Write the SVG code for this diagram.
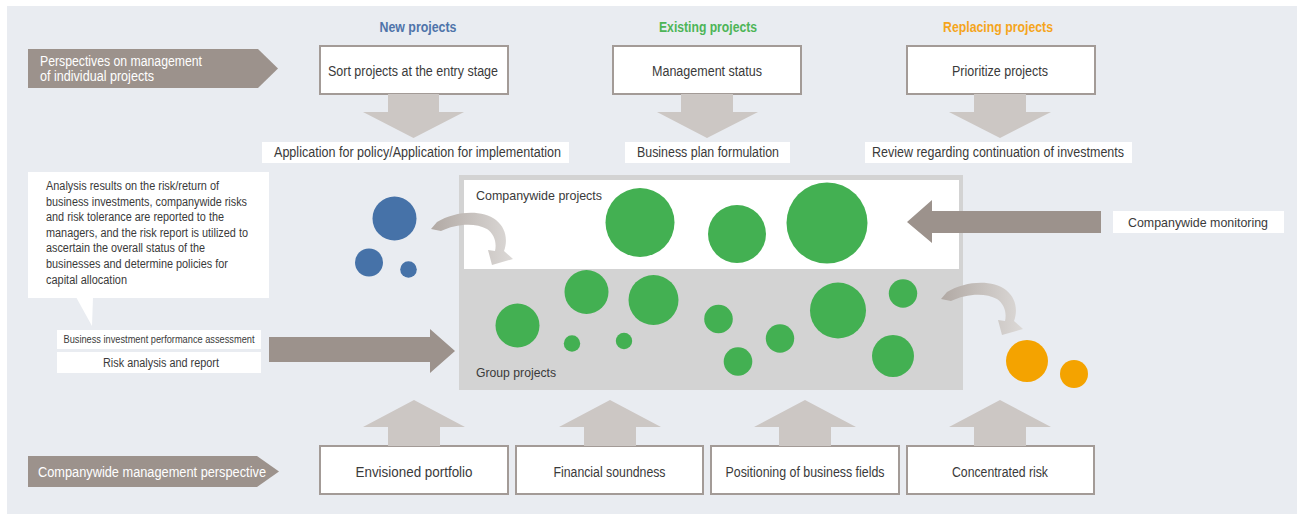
<svg xmlns="http://www.w3.org/2000/svg" width="1299" height="518" viewBox="0 0 1299 518">
<defs>
<style>
text{font-family:"Liberation Sans Narrow","Liberation Sans",Arial,sans-serif;fill:#3a3a3a;}
.t14{font-size:14px;}
.t13{font-size:13px;}
.t12{font-size:12.5px;}
.hd{font-size:14px;font-weight:bold;}
.wt{fill:#ffffff;font-size:14px;}
.box{fill:#ffffff;stroke:#a39b97;stroke-width:2;}
.lbl{fill:#ffffff;}
.pent{fill:#9c928c;}
.varrow{fill:#ccc7c4;}
.harrow{fill:#9c928c;}
.g{fill:#43b052;}
.b{fill:#4672a8;}
.o{fill:#f4a300;}
.curve{fill:url(#cg);}
</style>
<linearGradient id="cg" x1="0" y1="0" x2="1" y2="0">
<stop offset="0" stop-color="#b1a9a4"/>
<stop offset="1" stop-color="#dcd9d7"/>
</linearGradient>
<g id="curveArrow">
<path class="curve" d="M431 229 L437 222 C455 211 482 209 496 220 C506 228 508 240 504 251 L513 259 L492 265 L488 250 L495 251 C497 242 494 234 487 229 C475 222 455 224 441 231 Z"/>
</g>
</defs>

<rect x="7" y="6" width="1290" height="508" fill="#e9ecf1"/>

<g id="perspective-individual">
<polygon class="pent" points="28,49 258,49 278,68.5 258,88 28,88"/>
<text class="wt" x="40" y="66" textLength="162" lengthAdjust="spacingAndGlyphs">Perspectives on management</text>
<text class="wt" x="40" y="81" textLength="114" lengthAdjust="spacingAndGlyphs">of individual projects</text>
</g>

<g id="headers">
<text class="hd" x="418" y="32" text-anchor="middle" style="fill:#4f74aa" textLength="77" lengthAdjust="spacingAndGlyphs">New projects</text>
<text class="hd" x="708" y="32" text-anchor="middle" style="fill:#4db557" textLength="98" lengthAdjust="spacingAndGlyphs">Existing projects</text>
<text class="hd" x="998" y="32" text-anchor="middle" style="fill:#f5a51c" textLength="110" lengthAdjust="spacingAndGlyphs">Replacing projects</text>
</g>

<g id="sort-projects">
<rect class="box" x="320" y="46" width="188" height="48"/>
<text class="t14" x="413" y="75.5" text-anchor="middle" textLength="170" lengthAdjust="spacingAndGlyphs">Sort projects at the entry stage</text>
</g>
<g id="management-status">
<rect class="box" x="613" y="46" width="188" height="48"/>
<text class="t14" x="707" y="75.5" text-anchor="middle" textLength="110" lengthAdjust="spacingAndGlyphs">Management status</text>
</g>
<g id="prioritize-projects">
<rect class="box" x="907" y="46" width="188" height="48"/>
<text class="t14" x="1000" y="75.5" text-anchor="middle" textLength="96" lengthAdjust="spacingAndGlyphs">Prioritize projects</text>
</g>

<g id="application">
<rect class="lbl" x="262" y="142" width="307" height="21"/>
<text class="t14" x="417.5" y="157" text-anchor="middle" textLength="287" lengthAdjust="spacingAndGlyphs">Application for policy/Application for implementation</text>
</g>
<g id="business-plan">
<rect class="lbl" x="625" y="142" width="165" height="21"/>
<text class="t14" x="708" y="157" text-anchor="middle" textLength="142" lengthAdjust="spacingAndGlyphs">Business plan formulation</text>
</g>
<g id="review">
<rect class="lbl" x="865" y="142" width="267" height="21"/>
<text class="t14" x="998" y="157" text-anchor="middle" textLength="252" lengthAdjust="spacingAndGlyphs">Review regarding continuation of investments</text>
</g>

<g id="callout">
<rect class="lbl" x="28" y="172" width="241" height="126"/>
<polygon class="lbl" points="76,297 93,297 92,326"/>
<text class="t12" x="46" y="190" textLength="173" lengthAdjust="spacingAndGlyphs">Analysis results on the risk/return of</text>
<text class="t12" x="46" y="205.6" textLength="201" lengthAdjust="spacingAndGlyphs">business investments, companywide risks</text>
<text class="t12" x="46" y="221.2" textLength="178" lengthAdjust="spacingAndGlyphs">and risk tolerance are reported to the</text>
<text class="t12" x="46" y="236.8" textLength="202" lengthAdjust="spacingAndGlyphs">managers, and the risk report is utilized to</text>
<text class="t12" x="46" y="252.4" textLength="159" lengthAdjust="spacingAndGlyphs">ascertain the overall status of the</text>
<text class="t12" x="46" y="268" textLength="182" lengthAdjust="spacingAndGlyphs">businesses and determine policies for</text>
<text class="t12" x="46" y="283.6" textLength="81" lengthAdjust="spacingAndGlyphs">capital allocation</text>
</g>

<g id="performance-assessment">
<rect class="lbl" x="57" y="330" width="204" height="19"/>
<text x="159" y="343" text-anchor="middle" font-size="11.5" textLength="191" lengthAdjust="spacingAndGlyphs">Business investment performance assessment</text>
</g>
<g id="risk-analysis">
<rect class="lbl" x="57" y="352" width="204" height="21"/>
<text class="t12" x="161" y="367" text-anchor="middle" textLength="116" lengthAdjust="spacingAndGlyphs">Risk analysis and report</text>
</g>

<g id="project-pool">
<rect x="459" y="175" width="504" height="215" fill="#d3d3d3"/>
<rect x="464" y="180" width="495" height="89" fill="#ffffff"/>
<text class="t13" x="476" y="200" textLength="126" lengthAdjust="spacingAndGlyphs">Companywide projects</text>
<text class="t13" x="476" y="377" textLength="80" lengthAdjust="spacingAndGlyphs">Group projects</text>
<circle class="g" cx="640" cy="222.5" r="34.5"/>
<circle class="g" cx="737" cy="234" r="29"/>
<circle class="g" cx="827" cy="223" r="40.5"/>
<circle class="g" cx="517.5" cy="325.5" r="22"/>
<circle class="g" cx="586.5" cy="292" r="22"/>
<circle class="g" cx="653.5" cy="300" r="25"/>
<circle class="g" cx="572" cy="343.5" r="8.2"/>
<circle class="g" cx="624" cy="341" r="8.2"/>
<circle class="g" cx="718.5" cy="319" r="14.3"/>
<circle class="g" cx="738" cy="361.5" r="14.3"/>
<circle class="g" cx="780" cy="338.5" r="14.2"/>
<circle class="g" cx="838" cy="310.5" r="28"/>
<circle class="g" cx="903" cy="293.5" r="14.2"/>
<circle class="g" cx="893" cy="356" r="21"/>
</g>

<g id="new-project-circles">
<circle class="b" cx="394.5" cy="218.5" r="22"/>
<circle class="b" cx="369" cy="262.5" r="14"/>
<circle class="b" cx="408.5" cy="269.5" r="8.3"/>
</g>

<g id="replaced-project-circles">
<circle class="o" cx="1027" cy="361" r="21"/>
<circle class="o" cx="1074" cy="374" r="14"/>
</g>

<g id="companywide-monitoring">
<rect class="lbl" x="1113" y="211" width="171" height="22"/>
<text class="t13" x="1198" y="227" text-anchor="middle" textLength="140" lengthAdjust="spacingAndGlyphs">Companywide monitoring</text>
</g>

<g id="perspective-companywide">
<polygon class="pent" points="28,456 257,456 279,471.5 257,487 28,487"/>
<text class="wt" x="38" y="476.5" textLength="228" lengthAdjust="spacingAndGlyphs">Companywide management perspective</text>
</g>

<g id="envisioned-portfolio">
<rect class="box" x="320" y="446" width="188" height="48"/>
<text class="t14" x="414" y="476.5" text-anchor="middle" textLength="117" lengthAdjust="spacingAndGlyphs">Envisioned portfolio</text>
</g>
<g id="financial-soundness">
<rect class="box" x="516" y="446" width="187" height="48"/>
<text class="t14" x="609.5" y="476.5" text-anchor="middle" textLength="112" lengthAdjust="spacingAndGlyphs">Financial soundness</text>
</g>
<g id="positioning">
<rect class="box" x="711" y="446" width="188" height="48"/>
<text class="t14" x="805" y="476.5" text-anchor="middle" textLength="159" lengthAdjust="spacingAndGlyphs">Positioning of business fields</text>
</g>
<g id="concentrated-risk">
<rect class="box" x="907" y="446" width="187" height="48"/>
<text class="t14" x="1000" y="476.5" text-anchor="middle" textLength="96" lengthAdjust="spacingAndGlyphs">Concentrated risk</text>
</g>

<g id="connectors">
<polygon class="varrow" points="388,94 439,94 439,112 464,112 413.5,138 363,112 388,112"/>
<polygon class="varrow" points="681,94 733,94 733,112 758,112 707,138 657,112 681,112"/>
<polygon class="varrow" points="974,94 1026,94 1026,112 1051,112 1000,138 949,112 974,112"/>
<polygon class="varrow" points="388,446 440,446 440,427 465,427 414,400 363,427 388,427"/>
<polygon class="varrow" points="584,446 636,446 636,427 661,427 610,400 559,427 584,427"/>
<polygon class="varrow" points="779,446 831,446 831,427 856,427 805,400 754,427 779,427"/>
<polygon class="varrow" points="974,446 1026,446 1026,427 1051,427 1000,400 949,427 974,427"/>
<polygon class="harrow" points="269,337 430,337 430,329 455,351 430,373 430,362 269,362"/>
<polygon class="harrow" points="1101,211 932,211 932,200 907,222 932,243 932,233 1101,233"/>
<use href="#curveArrow"/>
<use href="#curveArrow" transform="translate(510,70)"/>
</g>
</svg>
